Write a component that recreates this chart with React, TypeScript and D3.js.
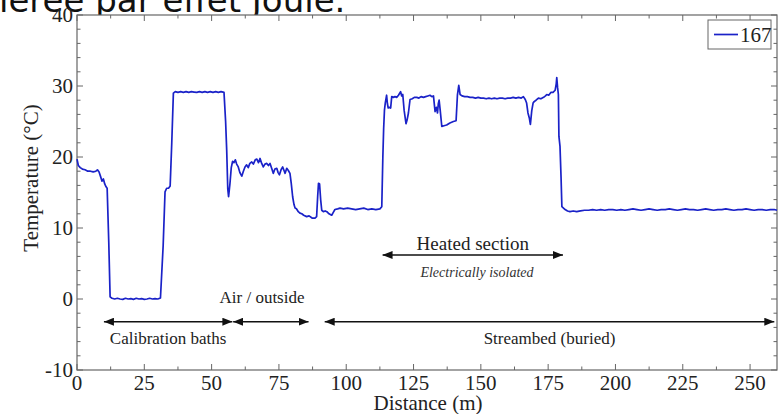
import React, { useEffect, useRef } from "react";
import * as d3 from "d3";

// temperature profile along the cable, [distance (m), temperature (°C)]
const series167: [number, number][] = [
  [0, 19.7], [0.5, 18.8], [1.2, 18.5], [2, 18.3], [3, 18.2], [4, 18.0], [5, 18.0], [6, 17.9],
  [7, 18.0], [7.6, 18.2], [8.2, 17.9], [8.8, 17.2], [9.3, 16.6], [9.8, 16.9], [10.3, 16.2],
  [10.8, 15.8], [11.2, 15.6], [11.8, 8], [12.3, 0.3], [13, 0.1], [14, 0.0], [15, 0.1], [16, 0.0],
  [17, -0.05], [18, 0.1], [19, 0.0], [20, 0.05], [21, -0.05], [22, 0.1], [23, 0.0], [24, 0.05],
  [25, -0.05], [26, 0.0], [27, 0.1], [28, 0.0], [29, 0.05], [30, 0.0], [31, 0.15], [32, 7.5],
  [32.7, 15.1], [33.3, 15.6], [34, 15.6], [34.6, 15.9], [35.2, 22], [35.8, 29.0], [36.5, 29.2],
  [37.5, 29.1], [38.5, 29.2], [39.5, 29.1], [40.5, 29.2], [41.5, 29.1], [42.5, 29.2], [43.5, 29.15],
  [44.5, 29.1], [45.5, 29.2], [46.5, 29.1], [47.5, 29.2], [48.5, 29.1], [49.5, 29.2], [50.5, 29.1],
  [51.5, 29.2], [52.5, 29.1], [53.5, 29.2], [54.6, 29.1], [55.2, 25], [55.6, 21.0], [56.0, 15.5],
  [56.3, 14.4], [56.8, 16.2], [57.3, 18.5], [57.8, 19.4], [58.3, 19.2], [58.8, 19.6], [59.3, 19.0],
  [59.9, 18.6], [60.5, 17.8], [61.2, 17.3], [61.8, 18.0], [62.4, 18.6], [63.0, 18.9], [63.6, 18.5],
  [64.2, 19.1], [64.9, 19.3], [65.5, 19.0], [66.2, 19.6], [66.8, 19.7], [67.4, 19.2], [68.0, 19.8],
  [68.6, 19.1], [69.2, 18.6], [69.8, 19.0], [70.5, 19.1], [71.1, 18.8], [71.7, 19.1], [72.3, 18.4],
  [72.9, 17.7], [73.5, 18.3], [74.2, 18.4], [74.7, 17.8], [75.2, 17.5], [75.8, 18.2], [76.4, 18.6],
  [77.0, 18.0], [77.3, 17.7], [77.9, 18.4], [78.5, 18.1], [79.1, 17.7], [79.6, 16.2], [80.1, 14.4],
  [80.6, 13.3], [81.0, 12.8], [81.5, 12.7], [82.2, 12.3], [82.8, 12.1], [83.5, 12.0], [84.2, 11.8],
  [85.3, 11.6], [86.2, 11.7], [87.3, 11.4], [88.4, 11.4], [89.0, 11.6], [89.4, 14.5], [89.7, 16.3],
  [90.1, 16.2], [90.5, 14.0], [90.9, 12.5], [91.5, 12.3], [92.2, 12.4], [92.8, 12.3], [93.6, 12.0],
  [94.6, 11.8], [95.2, 12.2], [95.8, 12.6], [96.8, 12.7], [97.7, 12.8], [99, 12.7], [100.5, 12.8],
  [102, 12.7], [103.5, 12.6], [105, 12.7], [106.5, 12.8], [108, 12.6], [109.5, 12.7], [111, 12.6],
  [112.5, 12.7], [113.2, 13.0], [113.6, 20.0], [113.9, 24], [114.2, 26.6], [114.5, 27.6],
  [115.0, 28.7], [115.3, 27.5], [115.6, 26.9], [116.2, 27.0], [116.5, 26.9], [116.9, 28.5],
  [117.5, 28.4], [118.1, 28.5], [118.8, 28.4], [119.4, 28.7], [120.2, 29.2], [120.6, 28.6],
  [121.0, 28.8], [121.5, 26.6], [122.2, 24.7], [122.6, 25.2], [123.1, 26.2], [123.7, 28.1],
  [124.5, 28.2], [125.3, 28.4], [126.2, 28.4], [127.0, 28.3], [127.8, 28.5], [128.7, 28.4],
  [129.5, 28.5], [130.3, 28.6], [131.1, 28.7], [131.8, 28.5], [132.4, 28.6], [133.0, 26.4],
  [133.5, 27.0], [133.9, 26.2], [134.2, 27.5], [134.5, 28.0], [134.9, 26.6], [135.5, 24.3],
  [136.3, 24.4], [137.3, 24.5], [138.5, 24.8], [139.8, 25.0], [140.8, 25.1], [141.3, 28.7],
  [141.8, 30.1], [142.3, 28.8], [143, 28.6], [144, 28.5], [145, 28.5], [146, 28.4], [147, 28.4],
  [148, 28.3], [149, 28.4], [150, 28.3], [151, 28.3], [152, 28.2], [153, 28.3], [154, 28.2],
  [155, 28.3], [156, 28.2], [157, 28.3], [158, 28.3], [159, 28.2], [160, 28.3], [161, 28.3],
  [162, 28.4], [163, 28.3], [164, 28.4], [165, 28.3], [165.8, 28.5], [166.5, 28.1], [167.0, 27.6],
  [167.5, 26.2], [168.0, 25.5], [168.4, 24.6], [168.9, 26.5], [169.4, 27.6], [169.8, 27.8],
  [170.5, 28.0], [171.4, 28.3], [172.3, 28.2], [173.3, 28.4], [174.0, 28.6], [174.5, 28.8],
  [175.2, 28.7], [176.0, 29.1], [176.8, 29.1], [177.6, 29.4], [178.0, 30.3], [178.2, 31.2],
  [178.5, 29.8], [178.8, 28.8], [179.0, 22.9], [179.4, 21.5], [179.8, 17], [180.1, 13.0],
  [180.7, 12.8], [181.3, 12.6], [182.2, 12.4], [183.1, 12.3], [184.3, 12.4], [185.6, 12.3],
  [187, 12.4], [188.5, 12.5], [190, 12.5], [191.5, 12.6], [193, 12.5], [194.5, 12.6], [196, 12.5],
  [197.5, 12.6], [199, 12.6], [200.5, 12.5], [202, 12.6], [203.5, 12.5], [205, 12.6], [206.5, 12.7],
  [208, 12.6], [209.5, 12.5], [211, 12.6], [212.5, 12.7], [214, 12.6], [215.5, 12.5], [217, 12.6],
  [218.5, 12.6], [220, 12.7], [221.5, 12.6], [223, 12.5], [224.5, 12.6], [226, 12.7], [227.5, 12.6],
  [229, 12.6], [230.5, 12.5], [232, 12.6], [233.5, 12.7], [235, 12.6], [236.5, 12.5], [238, 12.6],
  [239.5, 12.6], [241, 12.7], [242.5, 12.6], [244, 12.5], [245.5, 12.6], [247, 12.6], [248.5, 12.7],
  [250, 12.6], [251.5, 12.5], [253, 12.6], [254.5, 12.6], [256, 12.5], [257.5, 12.6], [259, 12.6],
  [260, 12.5],
];

const xTicks = [0, 25, 50, 75, 100, 125, 150, 175, 200, 225, 250];
const yTicks = [-10, 0, 10, 20, 30, 40];

// zones below the curve: [label, from (m), to (m), arrow level (°C)]
const zones: [string, number, number, number][] = [
  ["Calibration baths", 10, 57.7, -3.2],
  ["Air / outside", 58, 86, -3.2],
  ["Streambed (buried)", 92, 259, -3.2],
  ["Heated section", 113.5, 180.5, 6.2],
];
const heatedNote = "Electrically isolated";
const legendLabel = "167";

export default function App() {
  const ref = useRef<SVGSVGElement | null>(null);

  useEffect(() => {
    const W = 783;
    const H = 414;
    const left = 77, right = 777, top = 15, bottom = 370;

    const x = d3.scaleLinear().domain([0, 260]).range([left, right]);
    const y = d3.scaleLinear().domain([-10, 40]).range([bottom, top]);

    const svg = d3.select(ref.current).attr("width", W).attr("height", H);
    svg.selectAll("*").remove();

    const serif = "'Liberation Serif', 'Times New Roman', serif";
    const axisColor = "#666";

    // clipped slide title above the chart
    svg
      .append("text")
      .attr("x", -1)
      .attr("y", 12)
      .style("font-family", "'DejaVu Sans', Verdana, sans-serif")
      .style("font-size", "34px")
      .attr("fill", "#111")
      .text("ierée par effet Joule.");

    svg
      .append("rect")
      .attr("x", left)
      .attr("y", top)
      .attr("width", right - left)
      .attr("height", bottom - top)
      .attr("fill", "#fff")
      .attr("stroke", axisColor)
      .attr("stroke-width", 1.2);

    // ticks pointing inward on all four sides
    const minorX = d3.range(0, 261, 12.5);
    const minorY = d3.range(-10, 41, 2);
    const tk = svg.append("g").attr("stroke", axisColor).attr("stroke-width", 1);
    minorX.forEach((v) => {
      const len = v % 25 === 0 ? 6 : 3.5;
      tk.append("line").attr("x1", x(v)).attr("x2", x(v)).attr("y1", bottom).attr("y2", bottom - len);
      tk.append("line").attr("x1", x(v)).attr("x2", x(v)).attr("y1", top).attr("y2", top + len);
    });
    minorY.forEach((v) => {
      const len = v % 10 === 0 ? 6 : 3.5;
      tk.append("line").attr("x1", left).attr("x2", left + len).attr("y1", y(v)).attr("y2", y(v));
      tk.append("line").attr("x1", right).attr("x2", right - len).attr("y1", y(v)).attr("y2", y(v));
    });

    svg
      .append("g")
      .selectAll("text")
      .data(xTicks)
      .enter()
      .append("text")
      .attr("x", (d) => x(d))
      .attr("y", 390)
      .attr("text-anchor", "middle")
      .style("font-family", serif)
      .style("font-size", "21px")
      .attr("fill", "#222")
      .text((d) => d);

    svg
      .append("g")
      .selectAll("text")
      .data(yTicks)
      .enter()
      .append("text")
      .attr("x", left - 4)
      .attr("y", (d) => y(d) + 7)
      .attr("text-anchor", "end")
      .style("font-family", serif)
      .style("font-size", "21px")
      .attr("fill", "#222")
      .text((d) => d);

    svg
      .append("text")
      .attr("x", 428)
      .attr("y", 410)
      .attr("text-anchor", "middle")
      .style("font-family", serif)
      .style("font-size", "21px")
      .attr("fill", "#222")
      .text("Distance (m)");

    svg
      .append("text")
      .attr("transform", "translate(38, 178) rotate(-90)")
      .attr("text-anchor", "middle")
      .style("font-family", serif)
      .style("font-size", "21px")
      .attr("fill", "#222")
      .text("Temperature (°C)");

    // arrow heads
    const defs = svg.append("defs");
    defs
      .append("marker")
      .attr("id", "ah")
      .attr("viewBox", "0 0 10 8")
      .attr("refX", 10)
      .attr("refY", 4)
      .attr("markerWidth", 10)
      .attr("markerHeight", 8)
      .attr("markerUnits", "userSpaceOnUse")
      .attr("orient", "auto-start-reverse")
      .append("path")
      .attr("d", "M0,0 L10,4 L0,8 Z")
      .attr("fill", "#111");

    const line = d3
      .line<[number, number]>()
      .x((d) => x(d[0]))
      .y((d) => y(d[1]));

    svg
      .append("path")
      .datum(series167)
      .attr("d", line)
      .attr("fill", "none")
      .attr("stroke", "#1a22c8")
      .attr("stroke-width", 1.7)
      .attr("stroke-linejoin", "round");

    const zg = svg.append("g");
    zones.forEach(([label, a, b, lvl], i) => {
      zg.append("line")
        .attr("x1", x(a))
        .attr("x2", x(b))
        .attr("y1", y(lvl))
        .attr("y2", y(lvl))
        .attr("stroke", "#111")
        .attr("stroke-width", 1.5)
        .attr("marker-start", "url(#ah)")
        .attr("marker-end", "url(#ah)");
      // label below the bottom arrows, above the others
      let tx = (x(a) + x(b)) / 2;
      let ty = y(lvl) + 22;
      if (label === "Air / outside") {
        tx = 262;
        ty = y(lvl) - 19;
      }
      if (i === 3) ty = y(lvl) - 5;
      zg.append("text")
        .attr("x", tx)
        .attr("y", ty)
        .attr("text-anchor", "middle")
        .style("font-family", serif)
        .style("font-size", i === 3 ? "19px" : "17px")
        .attr("fill", "#222")
        .text(label);
    });
    svg
      .append("text")
      .attr("x", 477)
      .attr("y", y(6.2) + 22)
      .attr("text-anchor", "middle")
      .style("font-family", serif)
      .style("font-style", "italic")
      .style("font-size", "14px")
      .attr("fill", "#333")
      .text(heatedNote);

    // legend
    const lg = svg.append("g");
    lg.append("rect")
      .attr("x", 708)
      .attr("y", 20)
      .attr("width", 63)
      .attr("height", 29)
      .attr("fill", "#fff")
      .attr("stroke", axisColor)
      .attr("stroke-width", 1);
    lg.append("line")
      .attr("x1", 714)
      .attr("x2", 738)
      .attr("y1", 34.5)
      .attr("y2", 34.5)
      .attr("stroke", "#1a22c8")
      .attr("stroke-width", 1.7);
    lg.append("text")
      .attr("x", 740)
      .attr("y", 42)
      .style("font-family", serif)
      .style("font-size", "21px")
      .attr("fill", "#222")
      .text(legendLabel);
  }, []);

  return <svg ref={ref} style={{ position: "absolute", left: 0, top: 0 }} />;
}
